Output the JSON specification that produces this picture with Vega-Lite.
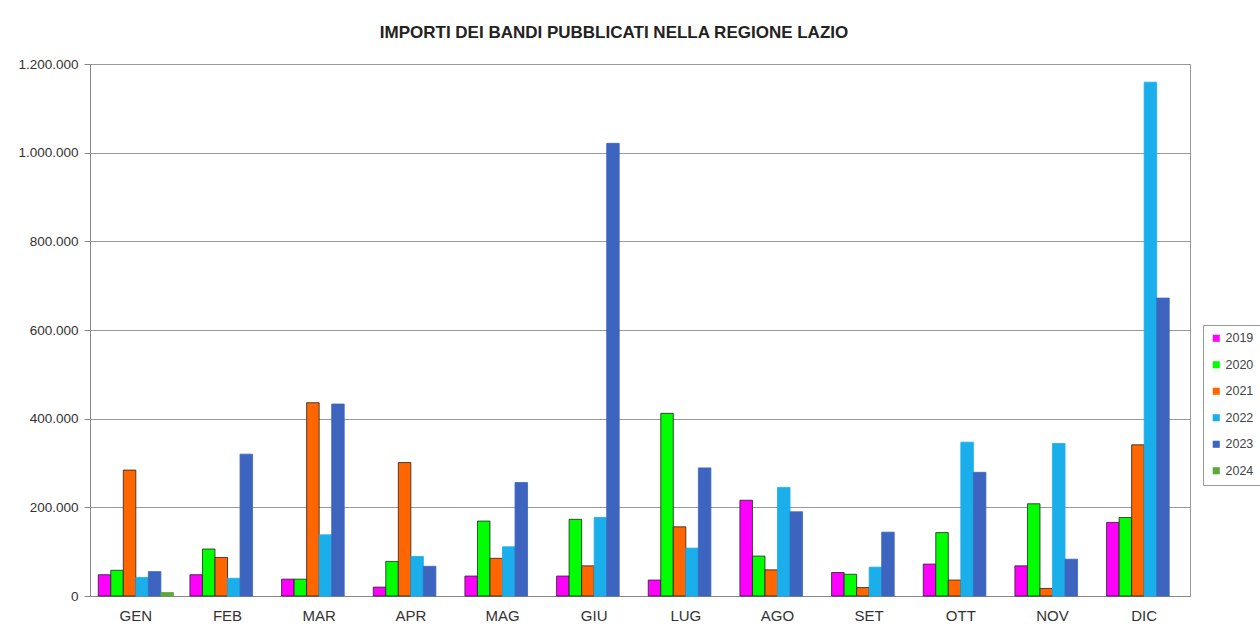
{
  "$schema": "https://vega.github.io/schema/vega-lite/v6.json",
  "autosize": {"type": "none"},
  "padding": {"left": 90, "top": 64, "right": 70, "bottom": 48},
  "width": 1100,
  "height": 532,
  "background": "white",
  "title": {
    "text": "IMPORTI DEI BANDI PUBBLICATI NELLA REGIONE LAZIO",
    "font": "Liberation Sans",
    "fontSize": 17,
    "fontWeight": "bold",
    "color": "#222",
    "anchor": "middle",
    "dx": -26,
    "offset": 15
  },
  "data": {
    "values": [
      {"mese": "GEN", "anno": "2019", "importo": 48000},
      {"mese": "GEN", "anno": "2020", "importo": 58000},
      {"mese": "GEN", "anno": "2021", "importo": 284000},
      {"mese": "GEN", "anno": "2022", "importo": 42000},
      {"mese": "GEN", "anno": "2023", "importo": 55000},
      {"mese": "GEN", "anno": "2024", "importo": 8000},
      {"mese": "FEB", "anno": "2019", "importo": 48000},
      {"mese": "FEB", "anno": "2020", "importo": 106000},
      {"mese": "FEB", "anno": "2021", "importo": 87000},
      {"mese": "FEB", "anno": "2022", "importo": 40000},
      {"mese": "FEB", "anno": "2023", "importo": 320000},
      {"mese": "MAR", "anno": "2019", "importo": 38000},
      {"mese": "MAR", "anno": "2020", "importo": 38000},
      {"mese": "MAR", "anno": "2021", "importo": 436000},
      {"mese": "MAR", "anno": "2022", "importo": 138000},
      {"mese": "MAR", "anno": "2023", "importo": 433000},
      {"mese": "APR", "anno": "2019", "importo": 20000},
      {"mese": "APR", "anno": "2020", "importo": 78000},
      {"mese": "APR", "anno": "2021", "importo": 301000},
      {"mese": "APR", "anno": "2022", "importo": 89000},
      {"mese": "APR", "anno": "2023", "importo": 67000},
      {"mese": "MAG", "anno": "2019", "importo": 45000},
      {"mese": "MAG", "anno": "2020", "importo": 169000},
      {"mese": "MAG", "anno": "2021", "importo": 85000},
      {"mese": "MAG", "anno": "2022", "importo": 111000},
      {"mese": "MAG", "anno": "2023", "importo": 256000},
      {"mese": "GIU", "anno": "2019", "importo": 45000},
      {"mese": "GIU", "anno": "2020", "importo": 173000},
      {"mese": "GIU", "anno": "2021", "importo": 68000},
      {"mese": "GIU", "anno": "2022", "importo": 177000},
      {"mese": "GIU", "anno": "2023", "importo": 1021000},
      {"mese": "LUG", "anno": "2019", "importo": 36000},
      {"mese": "LUG", "anno": "2020", "importo": 412000},
      {"mese": "LUG", "anno": "2021", "importo": 156000},
      {"mese": "LUG", "anno": "2022", "importo": 108000},
      {"mese": "LUG", "anno": "2023", "importo": 289000},
      {"mese": "AGO", "anno": "2019", "importo": 216000},
      {"mese": "AGO", "anno": "2020", "importo": 90000},
      {"mese": "AGO", "anno": "2021", "importo": 59000},
      {"mese": "AGO", "anno": "2022", "importo": 245000},
      {"mese": "AGO", "anno": "2023", "importo": 190000},
      {"mese": "SET", "anno": "2019", "importo": 53000},
      {"mese": "SET", "anno": "2020", "importo": 49000},
      {"mese": "SET", "anno": "2021", "importo": 19000},
      {"mese": "SET", "anno": "2022", "importo": 65000},
      {"mese": "SET", "anno": "2023", "importo": 144000},
      {"mese": "OTT", "anno": "2019", "importo": 72000},
      {"mese": "OTT", "anno": "2020", "importo": 143000},
      {"mese": "OTT", "anno": "2021", "importo": 36000},
      {"mese": "OTT", "anno": "2022", "importo": 347000},
      {"mese": "OTT", "anno": "2023", "importo": 279000},
      {"mese": "NOV", "anno": "2019", "importo": 68000},
      {"mese": "NOV", "anno": "2020", "importo": 208000},
      {"mese": "NOV", "anno": "2021", "importo": 17000},
      {"mese": "NOV", "anno": "2022", "importo": 344000},
      {"mese": "NOV", "anno": "2023", "importo": 83000},
      {"mese": "DIC", "anno": "2019", "importo": 166000},
      {"mese": "DIC", "anno": "2020", "importo": 177000},
      {"mese": "DIC", "anno": "2021", "importo": 341000},
      {"mese": "DIC", "anno": "2022", "importo": 1159000},
      {"mese": "DIC", "anno": "2023", "importo": 672000}
    ]
  },
  "mark": {"type": "bar", "strokeWidth": 1, "strokeOpacity": 0.8},
  "encoding": {
    "x": {
      "field": "mese",
      "type": "nominal",
      "sort": ["GEN","FEB","MAR","APR","MAG","GIU","LUG","AGO","SET","OTT","NOV","DIC"],
      "scale": {"paddingInner": 0.18, "paddingOuter": 0.09},
      "axis": {
        "title": null,
        "labelAngle": 0,
        "labelFont": "Liberation Sans",
        "labelFontSize": 15,
        "labelColor": "#333",
        "labelPadding": 12,
        "domainColor": "#888",
        "ticks": false,
        "grid": false
      }
    },
    "xOffset": {
      "field": "anno",
      "type": "nominal",
      "scale": {"domain": ["2019","2020","2021","2022","2023","2024"], "paddingInner": 0, "paddingOuter": 0}
    },
    "y": {
      "field": "importo",
      "type": "quantitative",
      "scale": {"domain": [0, 1200000], "nice": false},
      "axis": {
        "title": null,
        "values": [0, 200000, 400000, 600000, 800000, 1000000, 1200000],
        "labelExpr": "replace(format(datum.value, ','), regexp(',', 'g'), '.')",
        "labelFont": "Liberation Sans",
        "labelFontSize": 13.5,
        "labelColor": "#333",
        "labelPadding": 6,
        "tickColor": "#888",
        "tickSize": 6,
        "domainColor": "#888",
        "gridColor": "#999",
        "gridWidth": 1
      }
    },
    "color": {
      "field": "anno",
      "type": "nominal",
      "scale": {
        "domain": ["2019","2020","2021","2022","2023","2024"],
        "range": ["#FF00FF","#00FF00","#FF6600","#1AAEEB","#3D65BF","#5DA83A"]
      },
      "legend": {
        "title": null,
        "orient": "none",
        "legendX": 1113,
        "legendY": 261,
        "symbolType": "square",
        "symbolSize": 50,
        "symbolStrokeWidth": 0,
        "labelFont": "Liberation Sans",
        "labelFontSize": 12.5,
        "labelColor": "#444",
        "labelOffset": 3,
        "rowPadding": 13.5,
        "padding": 7,
        "strokeColor": "#999",
        "fillColor": "white"
      }
    },
    "stroke": {
      "field": "anno",
      "type": "nominal",
      "scale": {
        "domain": ["2019","2020","2021","2022","2023","2024"],
        "range": ["#222","#222","#222","#1AAEEB","#3D65BF","#5DA83A"]
      },
      "legend": null
    }
  },
  "config": {
    "view": {"stroke": "#999", "strokeWidth": 1}
  }
}
